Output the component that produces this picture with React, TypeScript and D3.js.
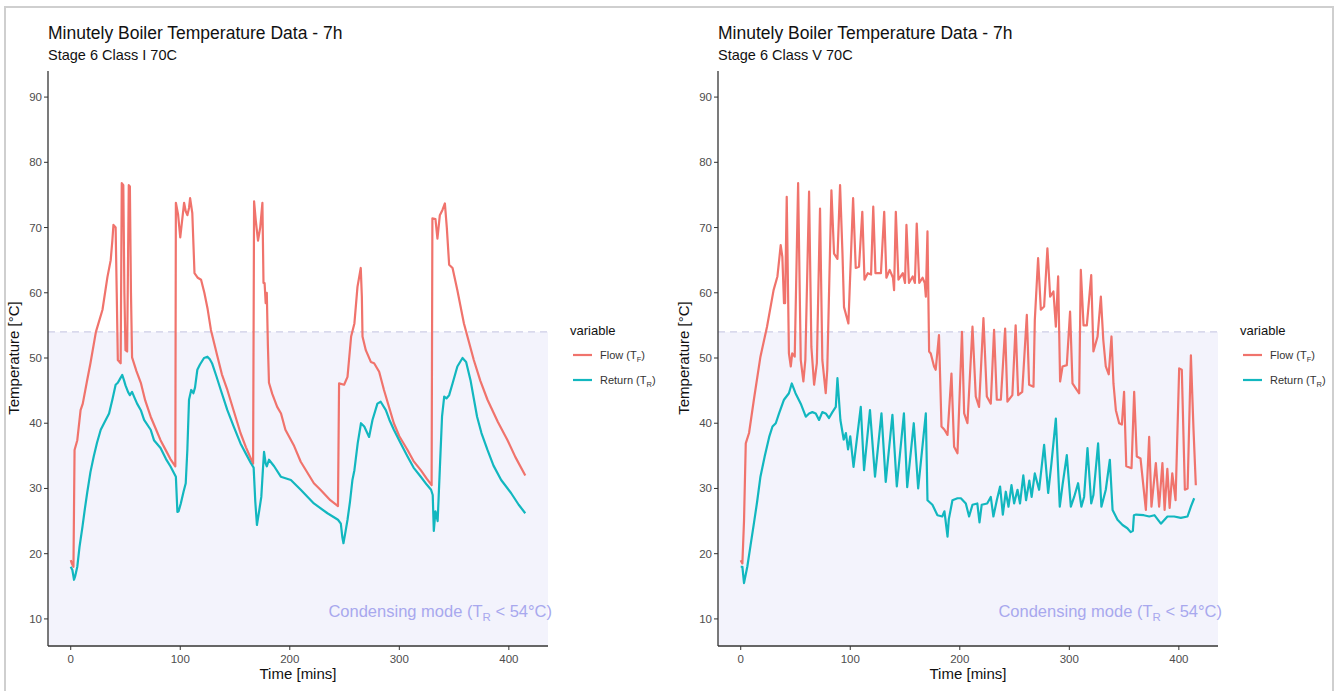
import React from "react";
import * as d3 from "d3";

const xTicks = [0, 100, 200, 300, 400];
const yTicks = [10, 20, 30, 40, 50, 60, 70, 80, 90];
const condensingLimit = 54;

const titles = ["Minutely Boiler Temperature Data - 7h", "Minutely Boiler Temperature Data - 7h"];
const subtitles = ["Stage 6 Class I 70C", "Stage 6 Class V 70C"];

const leftFlow: [number, number][] = [[0,19],[1,18.5],[2.5,18],[3.5,35.9],[6,37.4],[9,42],[11,43],[15,46.6],[18,49.2],[23,54],[29,57.4],[33.5,62.4],[36.5,65],[38,68],[39,70.4],[41,70],[42,60],[43,49.7],[45.6,49.2],[46.6,76.8],[48,76.5],[49,60],[50,51.2],[51.5,51],[53,76.5],[54,76.3],[55,60],[56,50.1],[60,48],[64,46.2],[68,43.5],[73,41],[78,39],[82,37.4],[87,35.8],[91,34.5],[95.5,33.4],[96,73.8],[98,72],[100,68.5],[103.5,73.8],[105,72.5],[106.5,71.9],[108,73],[109,74.5],[111,72.2],[113,63],[116,62.3],[119,62],[122,60],[125,57.5],[128,54.3],[134,50.2],[138,47.5],[143,45.1],[149,41.8],[155,38.5],[160,36.3],[164.4,34.6],[166.5,33.8],[167.4,74],[169,71],[171,68],[173,70],[175,73.8],[176,61.5],[177,61.5],[178,58.4],[179,60],[180,52],[181,46.2],[184,44.5],[188.5,42.5],[192,41.5],[196,39],[204,36.5],[210,34.1],[222,30.8],[228,29.8],[237,28.2],[244,27.3],[245,46.1],[249.6,45.9],[252.7,47.1],[256,53.3],[259,55.3],[261.8,60.9],[264.8,63.8],[265.8,59.4],[266.4,53.3],[269.4,51.2],[274,49.4],[277,49.2],[281.6,47.9],[286,45.1],[295,40],[300,38],[307.5,35.9],[313,34.2],[319.6,32.8],[325,31.5],[329.5,30.5],[330.2,71.4],[333,71.3],[334.8,68.3],[337,71.9],[339.4,72.7],[341.6,73.7],[343.4,69.9],[345.5,64.3],[348.6,63.8],[353,60.4],[359,55.3],[368,49.7],[374,46.5],[380.5,43.6],[390,40.2],[398.8,37.4],[406,34.8],[415,32]];

const leftReturn: [number, number][] = [[0,18],[1.5,17.5],[3,16],[4,16.5],[6,18],[8,21],[10.7,24.1],[13,27],[15,29.3],[18,32.5],[21,34.9],[24,37],[27.4,39],[31,40.2],[35,41.5],[38,43.6],[41,45.9],[43,46.2],[45,46.8],[47,47.4],[48.6,46.6],[50,45.8],[52.3,44.8],[54,44.3],[56,44.8],[58,44],[60.6,43],[64,42],[67,40.5],[73,39],[76,37.4],[82,36.2],[87,34.5],[91,33.4],[96,31.8],[97.4,26.4],[98.5,26.5],[100.5,27.7],[103,29.5],[105,30.8],[106.5,36],[108,43.6],[110,45.1],[112,44.6],[113.5,45.5],[115.6,48.2],[118,49],[121.7,50],[124.8,50.2],[127,49.8],[129,49.2],[133,47.2],[137,45.1],[143,42],[149,39.4],[155,36.9],[160,35.3],[164.4,33.9],[167,33.2],[168.5,28],[170,24.4],[172,26.5],[174,28.7],[175.5,33],[176.5,35.6],[178,33.8],[179,33.4],[181,34.4],[185.7,33.4],[191.8,31.8],[201,31.3],[210,29.8],[222,27.7],[234.4,26.2],[244,25.2],[246.6,24.6],[248,22.5],[249,21.6],[251,23.5],[252.7,25.2],[255,28],[257.2,31.3],[259,32.8],[262,36.9],[265,40],[268,39.5],[272.4,37.9],[275.5,40.5],[280,43],[283,43.3],[287.7,42],[291,40.5],[295,39],[301,37],[307.5,34.9],[313,33.2],[319.6,31.8],[325,30.6],[329,29.8],[330.5,29],[331.5,23.5],[333,26.5],[335,25],[337,33],[339,41],[341,44.1],[343,43.8],[345.5,44.3],[348.6,46.1],[353,48.7],[357.7,50],[361,49.4],[365,46.6],[368,43.8],[371,41],[375,38.5],[380.5,35.9],[386,33.5],[393,31.3],[402,29.3],[409,27.5],[415,26.2]];

const rightFlow: [number, number][] = [[0,19],[1.5,18.5],[3,25],[4.6,36.9],[7.6,38.5],[12,43.6],[18,50.2],[24,54.8],[30,60.4],[33.5,62.5],[36.5,67.3],[38,65.5],[39.5,58.4],[40.5,58.4],[42,74.7],[44,50.7],[45.7,48.7],[47,50.7],[49.3,50.2],[52.4,76.8],[54.8,49.7],[57.2,46.4],[59,49.7],[62.4,75.5],[64.5,51.7],[67,45.9],[69.5,49.2],[72.4,72.9],[74.5,49.7],[77.6,44.6],[79,48.2],[82.8,75.7],[85.2,66],[88.3,65.2],[90.7,76.5],[92.9,66],[94.3,57.8],[98.3,55.3],[102.6,74.5],[105,63.8],[108,64],[111,72.4],[113,62],[116,63],[119,62.8],[121,73.2],[123,63],[128,63],[131,72.4],[133,62.3],[136,63.5],[139,62.3],[140,60.4],[141.6,72.4],[144,62],[148,63],[150,61.5],[151.3,70.4],[153.6,61.5],[157,62.5],[159,61.5],[160.7,70.6],[163,61.5],[166,62.3],[168,61.5],[169,59.4],[170.5,69.4],[172,51],[173.5,50.7],[176.5,48.7],[178,48.2],[181,53.5],[183.3,39.5],[186,39],[188.8,38.2],[192.4,47.6],[194.8,36.4],[197.9,35.4],[202,54],[204,41.5],[207,40],[211.6,54.8],[214.6,44.1],[217.6,42.5],[221.6,56.1],[224.7,44.1],[228.3,43],[231.3,54.3],[233.8,43.6],[237.5,43.6],[241.4,54.5],[243.5,43.3],[248,44.3],[251,55],[253.3,44.3],[257,44.8],[261.2,56.6],[263.3,45.9],[267.3,45.6],[268.5,55.8],[271.5,65.3],[274,57.4],[277,57.9],[280,66.8],[282.5,59.4],[285.5,60.2],[287.7,54.8],[289.8,62.5],[291.6,46.4],[293.8,48.7],[297.7,48.9],[300.7,57.1],[302.9,46.1],[306.8,45.1],[309,44.6],[310.5,63.5],[313,55],[316,55],[320,62.7],[322,51],[325.8,53.3],[328.8,59.4],[331,52.8],[333.3,48.7],[336,47.5],[338.5,53.3],[340.3,46.1],[342.5,42],[345.5,40],[348,39.8],[350,44.8],[352,33.4],[356.8,33.1],[359.2,44.8],[361.6,34.9],[365,34.6],[369.9,26.7],[372.9,37.9],[375,27.2],[379,33.9],[382,27.2],[385,33.9],[387,26.7],[389.5,33],[391.6,27],[394,32.3],[397,28.2],[400.3,48.4],[402.7,48.2],[405.5,29.8],[408,30],[411,50.4],[413.4,39],[415.5,30.5]];

const rightReturn: [number, number][] = [[0,18],[1.5,18],[3,15.5],[6,18],[9,21.3],[12,24.6],[15,28],[18,31.8],[22,35],[26,37.9],[29,39.5],[32,40],[35,41.5],[39.5,43.6],[44,44.6],[46.6,46.1],[50,44.6],[54.8,43],[59.4,41],[62.4,41.5],[65.4,41.7],[68.5,41.5],[71.5,40.5],[74.5,41.7],[77.6,41.5],[80.6,40.8],[83.7,41.7],[86.8,42.5],[88.3,46.9],[91,40.5],[94,37.5],[96,38.5],[98,36],[100,38],[103,33.3],[109.6,42.5],[112.6,32.8],[118,42],[122.6,31.8],[128.5,41.5],[132.4,31],[138.5,41.3],[142.5,30.3],[149,41.5],[152,30.2],[158,40],[162,30],[169,41.5],[170.5,28.2],[175,27.5],[179.6,25.9],[184,25.7],[186,26.5],[188.8,22.6],[190,25.3],[193.3,28.2],[197.9,28.5],[201,28.5],[205.5,27.7],[208.5,25.7],[211.6,27.5],[216,27.7],[218,24.8],[220,27.5],[225,27.7],[228.3,28.7],[230.7,25.7],[233.8,28.2],[236.8,30.3],[239.3,26],[242,29.5],[244.5,27.2],[247.2,30.5],[249.6,27.7],[252.7,29.8],[255,27.7],[258,32],[260.5,28.2],[263.5,31.2],[265.6,28.7],[268.5,32.3],[272.4,29.8],[277,36.7],[280.7,29.3],[283.7,33.9],[287.7,40.7],[291.3,27.2],[293.8,30.5],[297.7,35.1],[301.4,27.2],[304.4,28.7],[308,30.8],[311,27.2],[313.5,28.7],[316.6,36.2],[320,27.7],[322,29],[326.3,36.9],[329.3,27.2],[333.3,29.8],[337,34.4],[339.5,26.7],[344,25.2],[348.6,24.4],[353,23.9],[356,23.3],[358,23.5],[359,25.9],[361,26],[368,25.9],[373,25.7],[377.7,25.9],[383.6,24.6],[389.6,25.7],[395.7,25.7],[401.8,25.5],[407.9,25.7],[411,27.2],[414,28.5]];

const FLOW_COLOR = "#F0736C";
const RETURN_COLOR = "#12B7BF";
const FONT = "'Liberation Sans', Arial, Helvetica, sans-serif";

type PanelProps = {
  left: number;
  title: string;
  subtitle: string;
  flow: [number, number][];
  ret: [number, number][];
};

function Panel({ left, title, subtitle, flow, ret }: PanelProps) {
  const width = 500;
  const top = 71;
  const bottom = 645;
  const x = d3.scaleLinear().domain([-20.75, 435.75]).range([left, left + width]);
  const y = d3.scaleLinear().domain([6, 94]).range([bottom, top]);
  const line = d3
    .line<[number, number]>()
    .x((d) => x(d[0]))
    .y((d) => y(d[1]));
  const right = left + width;
  const legX = right + 22;
  return (
    <g fontFamily={FONT}>
      <text x={left} y={39} fontSize={17.5} fill="#111">{title}</text>
      <text x={left} y={60} fontSize={14.5} fill="#111">{subtitle}</text>
      <rect x={left} y={y(condensingLimit)} width={width} height={bottom - y(condensingLimit)} fill="#f3f3fc" />
      <line x1={left} x2={right} y1={y(condensingLimit)} y2={y(condensingLimit)} stroke="#cdcde6" strokeWidth={1.3} strokeDasharray="7,5" />
      <text x={right + 4} y={y(10) - 2} fontSize={16.5} fill="#a8a8ee" textAnchor="end">
        Condensing mode (T<tspan fontSize={11.5} dy={4}>R</tspan><tspan dy={-4}> &lt; 54°C)</tspan>
      </text>
      <path d={line(flow) || ""} fill="none" stroke={FLOW_COLOR} strokeWidth={2.2} strokeLinejoin="round" />
      <path d={line(ret) || ""} fill="none" stroke={RETURN_COLOR} strokeWidth={2.2} strokeLinejoin="round" />
      <line x1={left} x2={left} y1={top} y2={bottom + 1} stroke="#333" strokeWidth={1.3} />
      <line x1={left} x2={right} y1={bottom + 1} y2={bottom + 1} stroke="#333" strokeWidth={1.3} />
      {yTicks.map((t) => (
        <g key={"y" + t}>
          <line x1={left - 4} x2={left} y1={y(t)} y2={y(t)} stroke="#333" strokeWidth={1} />
          <text x={left - 6} y={y(t) + 4} fontSize={11.5} fill="#4d4d4d" textAnchor="end">{t}</text>
        </g>
      ))}
      {xTicks.map((t) => (
        <g key={"x" + t}>
          <line x1={x(t)} x2={x(t)} y1={bottom + 1} y2={bottom + 5} stroke="#333" strokeWidth={1} />
          <text x={x(t)} y={bottom + 18} fontSize={11.5} fill="#4d4d4d" textAnchor="middle">{t}</text>
        </g>
      ))}
      <text x={(left + right) / 2} y={679} fontSize={15} fill="#111" textAnchor="middle">Time [mins]</text>
      <text transform={`translate(${left - 29},${(top + bottom) / 2}) rotate(-90)`} fontSize={15} fill="#111" textAnchor="middle">Temperature [°C]</text>
      <text x={legX} y={335} fontSize={13} fill="#111">variable</text>
      <line x1={legX + 3} x2={legX + 22} y1={355} y2={355} stroke={FLOW_COLOR} strokeWidth={2.2} />
      <text x={legX + 30} y={359} fontSize={11} fill="#333">
        Flow (T<tspan fontSize={7.5} dy={3}>F</tspan><tspan dy={-3}>)</tspan>
      </text>
      <line x1={legX + 3} x2={legX + 22} y1={380} y2={380} stroke={RETURN_COLOR} strokeWidth={2.2} />
      <text x={legX + 30} y={384} fontSize={11} fill="#333">
        Return (T<tspan fontSize={7.5} dy={3}>R</tspan><tspan dy={-3}>)</tspan>
      </text>
    </g>
  );
}

export default function App() {
  return (
    <svg width={1343} height={691} style={{ position: "absolute", left: 0, top: 0, background: "#fff" }}>
      <rect x={0} y={0} width={1343} height={691} fill="#fff" />
      <rect x={5} y={7} width={1328} height={720} fill="none" stroke="#cfcfcf" strokeWidth={2} />
      <Panel left={48} title={titles[0]} subtitle={subtitles[0]} flow={leftFlow} ret={leftReturn} />
      <Panel left={718} title={titles[1]} subtitle={subtitles[1]} flow={rightFlow} ret={rightReturn} />
    </svg>
  );
}
